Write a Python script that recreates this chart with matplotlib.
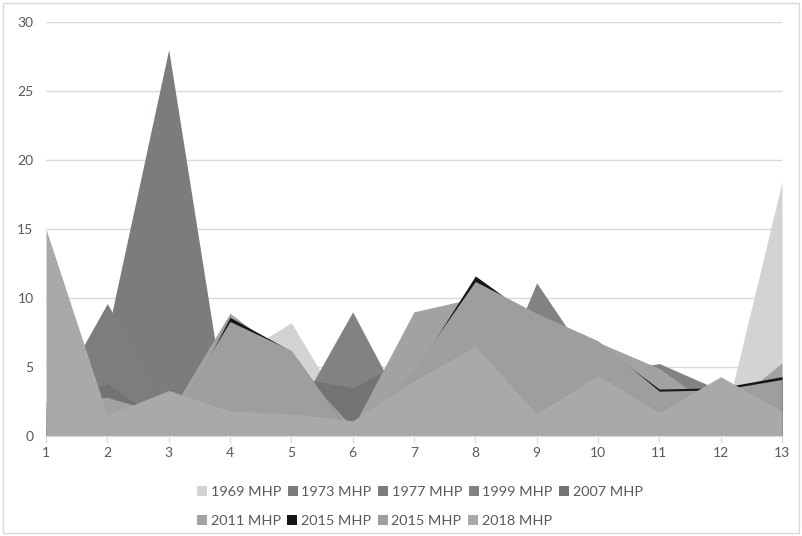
import matplotlib.pyplot as plt
from matplotlib.patches import Rectangle

# category axis 1..13
x = [1, 2, 3, 4, 5, 6, 7, 8, 9, 10, 11, 12, 13]

mhp_1969 = [2.0, 1.0, 1.0, 5.5, 8.2, 0.8, 0.5, 0.5, 0.5, 0.5, 0.5, 0.0, 18.4]
mhp_1973 = [1.0, 7.4, 28.0, 0.0, 0.5, 0.5, 0.5, 0.5, 0.5, 0.5, 0.5, 0.5, 0.5]
mhp_1977 = [1.7, 9.6, 1.5, 1.0, 0.5, 0.5, 0.5, 0.5, 0.5, 0.5, 0.5, 0.5, 0.5]
mhp_1999 = [1.0, 2.0, 2.0, 1.0, 1.1, 9.0, 0.6, 0.5, 11.1, 4.5, 5.25, 3.3, 2.0]
mhp_2007 = [2.0, 3.8, 0.7, 0.5, 4.3, 3.5, 5.8, 5.0, 4.0, 3.0, 3.0, 1.5, 1.5]
mhp_2011 = [2.5, 2.8, 1.5, 8.9, 5.5, 0.6, 9.0, 10.0, 8.5, 6.8, 4.9, 1.7, 5.3]
mhp_2015_a = [0.5, 0.8, 0.2, 8.6, 6.15, 0.0, 4.6, 11.6, 8.4, 6.7, 3.4, 3.5, 4.3]
mhp_2015_b = [0.5, 1.0, 1.0, 8.3, 6.2, 0.0, 4.85, 11.2, 8.9, 6.9, 3.25, 3.35, 4.1]
mhp_2018 = [15.0, 1.5, 3.3, 1.8, 1.6, 1.1, 4.0, 6.5, 1.6, 4.4, 1.7, 4.3, 1.8]

labels = ["1969 MHP", "1973 MHP", "1977 MHP", "1999 MHP", "2007 MHP",
          "2011 MHP", "2015 MHP", "2015 MHP", "2018 MHP"]
series = [mhp_1969, mhp_1973, mhp_1977, mhp_1999, mhp_2007,
          mhp_2011, mhp_2015_a, mhp_2015_b, mhp_2018]
colors = ["#d3d3d3", "#7a7c7e", "#7b7d7f", "#808284", "#717375",
          "#a0a2a4", "#15171a", "#9c9ea0", "#a7a9ab"]

plt.rcParams["font.family"] = ["Lato", "DejaVu Sans"]

fig = plt.figure(figsize=(8.02, 5.36), dpi=100)
ax = fig.add_axes([46 / 802, 100 / 536, 736 / 802, 414 / 536])

handles = []
for vals, col, lab in zip(series, colors, labels):
    h = ax.fill_between(x, 0, vals, color=col, linewidth=0, label=lab, zorder=2)
    handles.append(h)

ax.set_xlim(1, 13)
ax.set_ylim(0, 30)
ax.set_xticks(x)
ax.set_yticks(range(0, 31, 5))
ax.grid(axis="y", color="#d9d9d9", linewidth=1, zorder=0)
ax.set_axisbelow(True)
for s in ["top", "right", "left"]:
    ax.spines[s].set_visible(False)
ax.spines["bottom"].set_color("#d9d9d9")
ax.spines["bottom"].set_zorder(3)
ax.tick_params(axis="x", length=5, color="#d9d9d9", labelsize=10, labelcolor="#595959", pad=3)
ax.tick_params(axis="y", length=0, labelsize=10, labelcolor="#595959", pad=9)

legend_kw = dict(frameon=False, fontsize=10.4, labelcolor="#595959",
                 handlelength=0.7, handleheight=0.7, handletextpad=0.25,
                 columnspacing=0.45, borderpad=0, borderaxespad=0)
leg1 = fig.legend(handles[:5], labels[:5], ncol=5, loc="center left",
                  bbox_to_anchor=(197 / 802, 1 - 492 / 536), **legend_kw)
leg2 = fig.legend(handles[5:], labels[5:], ncol=4, loc="center left",
                  bbox_to_anchor=(197 / 802, 1 - 521 / 536), **legend_kw)

# chart area border
fig.patches.append(Rectangle((3 / 802, 3 / 536), 796 / 802, 530 / 536,
                             transform=fig.transFigure, fill=False,
                             edgecolor="#d9d9d9", linewidth=1))

fig.savefig("out.png", dpi=100)
